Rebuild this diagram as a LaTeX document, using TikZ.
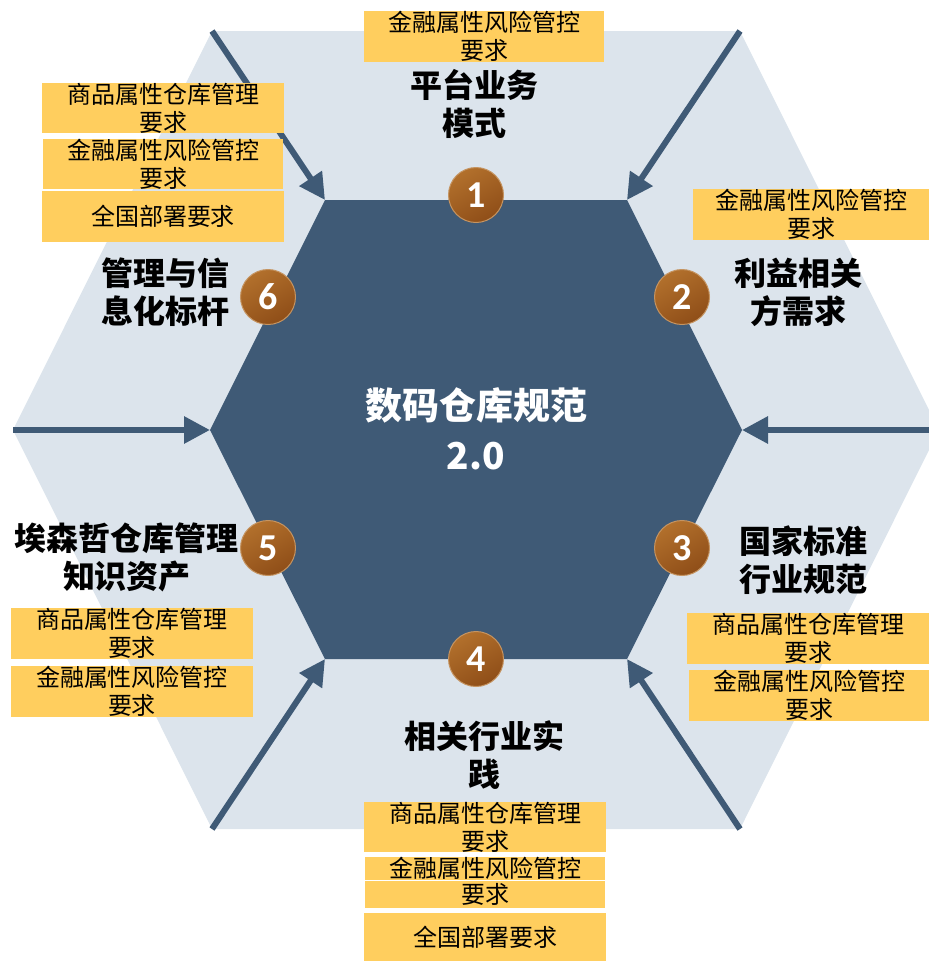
\documentclass[tikz,border=0pt]{standalone}
\usepackage{fontspec}
\newfontfamily\cjk{Noto Sans CJK SC}
\newfontfamily\numf{Carlito}
\usetikzlibrary{arrows.meta}
\definecolor{darkhex}{HTML}{3F5A76}
\definecolor{lighthex}{HTML}{DCE4EC}
\definecolor{yellowbox}{HTML}{FFCE5E}
\definecolor{brownA}{HTML}{B2702C}
\definecolor{brownB}{HTML}{8F4E18}
\newcommand{\ybx}[6]{\node[ybx, minimum width={#4-#2}, minimum height={#5-#3}] (#1) at ({(#2+#4)/2},{(#3+#5)/2}) {#6};}
\begin{document}
\begin{tikzpicture}[x=1pt,y=-1pt,
  ybx/.style={fill=yellowbox, inner sep=0pt, align=center, text=black,
    font=\cjk\fontsize{24}{28}\selectfont},
  lbl/.style={align=center, text=black, inner sep=0pt,
    font=\cjk\bfseries\fontsize{32}{38}\selectfont},
  numc/.style={circle, minimum size=55pt, inner sep=0pt, draw=brownA!75!white, line width=1pt,
    top color=brownA, bottom color=brownB, shading angle=30, text=white,
    font=\numf\bfseries\fontsize{38}{38}\selectfont},
  arr/.style={draw=darkhex, line width=6pt, -{Triangle[width=26pt,length=26pt]}}]
\useasboundingbox (0,0) rectangle (929,962);
% outer hexagon
\coordinate (o1) at (212,31);
\coordinate (o2) at (740,31);
\coordinate (o3) at (939,430);
\coordinate (o4) at (740,829);
\coordinate (o5) at (212,829);
\coordinate (o6) at (13,430);
\fill[lighthex] (o1)--(o2)--(o3)--(o4)--(o5)--(o6)--cycle;
% inner hexagon
\coordinate (i1) at (325,200);
\coordinate (i2) at (627,200);
\coordinate (i3) at (742,430);
\coordinate (i4) at (627,659);
\coordinate (i5) at (325,659);
\coordinate (i6) at (210,430);
\fill[darkhex] (i1)--(i2)--(i3)--(i4)--(i5)--(i6)--cycle;
% arrows
\coordinate (r3) at (929,430);
\draw[arr] (o1) -- (i1);
\draw[arr] (o2) -- (i2);
\draw[arr] (r3) -- (i3);
\draw[arr] (o4) -- (i4);
\draw[arr] (o5) -- (i5);
\draw[arr] (o6) -- (i6);
% centre title
\node[align=center, text=white, inner sep=0pt, font=\cjk\bfseries\fontsize{37}{50}\selectfont] (title) at (476,429) {数码仓库规范\\2.0};
% number circles
\node[numc] (c1) at (476,195) {1};
\node[numc] (c2) at (682,297) {2};
\node[numc] (c3) at (682,548) {3};
\node[numc] (c4) at (476,659) {4};
\node[numc] (c5) at (268,548) {5};
\node[numc] (c6) at (268,297) {6};
% labels
\node[lbl] (l1) at (474,104) {平台业务\\模式};
\node[lbl] (l2) at (798,292) {利益相关\\方需求};
\node[lbl] (l3) at (803,560) {国家标准\\行业规范};
\node[lbl] (l4) at (484,755) {相关行业实\\践};
\node[lbl] (l5) at (127,557) {埃森哲仓库管理\\知识资产};
\node[lbl] (l6) at (165,292) {管理与信\\息化标杆};
% yellow boxes
\ybx{b1}{364}{11}{604}{62}{金融属性风险管控\\要求}
\ybx{b6a}{42}{83}{284}{133}{商品属性仓库管理\\要求}
\ybx{b6b}{43}{139}{283}{189}{金融属性风险管控\\要求}
\ybx{b6c}{42}{191}{284}{242}{全国部署要求}
\ybx{b2}{693}{189}{929}{240}{金融属性风险管控\\要求}
\ybx{b3a}{687}{613}{929}{664}{商品属性仓库管理\\要求}
\ybx{b3b}{689}{670}{929}{721}{金融属性风险管控\\要求}
\ybx{b5a}{11}{608}{253}{659}{商品属性仓库管理\\要求}
\ybx{b5b}{11}{666}{253}{717}{金融属性风险管控\\要求}
\ybx{b4a}{364}{802}{606}{852}{商品属性仓库管理\\要求}
\ybx{b4b}{365}{858}{605}{879}{金融属性风险管控}
\ybx{b4c}{365}{881}{605}{908}{要求}
\ybx{b4d}{364}{913}{606}{961}{全国部署要求}
\end{tikzpicture}
\end{document}
